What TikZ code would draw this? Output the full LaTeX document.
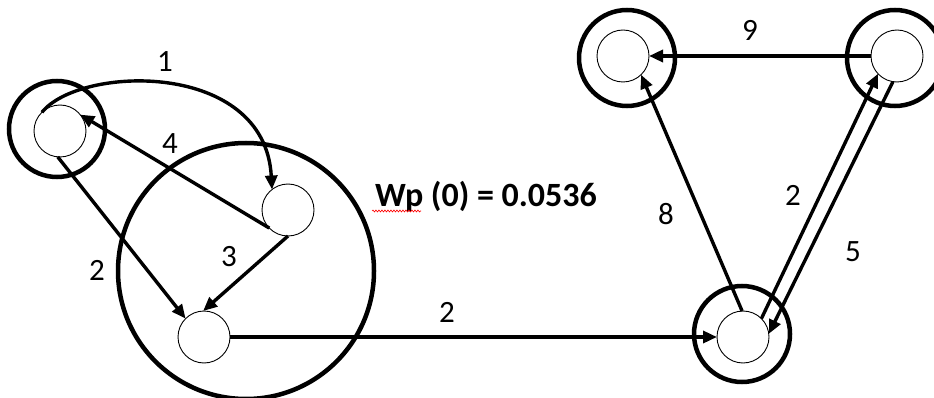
\documentclass[tikz,border=0pt]{standalone}
\usepackage{fontspec}
\setmainfont{Carlito}
\usetikzlibrary{arrows.meta,decorations.pathmorphing}
\begin{document}
\begin{tikzpicture}[x=1pt,y=-1pt,
  state/.style={circle,draw,line width=0.9pt,minimum size=52pt,inner sep=0pt,outer sep=0pt},
  ring/.style={circle,draw,line width=4.5pt,minimum size=96pt,inner sep=0pt},
  bigring/.style={circle,draw,line width=4.5pt,minimum size=256pt,inner sep=0pt},
  edge/.style={line width=3.4pt,-{Triangle[length=14pt,width=12pt]}},
  lbl/.style={font=\fontsize{31}{36}\selectfont},
]
\useasboundingbox (0,0) rectangle (934,398);
% rings
\node[ring] (RA) at (57,129) {};
\node[bigring] (RB) at (246,271) {};
\node[ring] (RD) at (627,58) {};
\node[ring] (RE) at (895,58) {};
\node[ring] (RF) at (742,334) {};
% states
\node[state] (A) at (60,131) {};
\node[state] (B) at (288,210) {};
\node[state] (C) at (204,337) {};
\node[state] (D) at (623,56) {};
\node[state] (E) at (897,56) {};
\node[state] (F) at (743,337) {};
% edges
\draw[edge] (A.134) .. controls (80,65) and (265,60) .. (B.128);
\draw[edge] (B.224) -- (A.39);
\draw[edge] (A.265) -- (C.135);
\draw[edge] (B.270) -- (C.92);
\draw[edge] (C.0) -- (F.180);
\draw[edge] (F.92) -- (D.314);
\draw[edge] (F.45) -- (E.223);
\draw[edge] (E.261) -- (F.7);
\draw[edge] (E.180) -- (D.0);
% labels
\node[lbl] (l1) at (165,62) {1};
\node[lbl] (l4) at (170,144) {4};
\node[lbl] (l2a) at (97,270) {2};
\node[lbl] (l3) at (229,257) {3};
\node[lbl] (l2b) at (447,312) {2};
\node[lbl] (l8) at (666,214) {8};
\node[lbl] (l2c) at (793,195) {2};
\node[lbl] (l5) at (853,252) {5};
\node[lbl] (l9) at (750,30) {9};
\node[font=\fontsize{34}{39}\selectfont\bfseries] (wp) at (486,197) {Wp (0) = 0.0536};
\draw[red,line width=0.6pt,decorate,decoration={snake,amplitude=1pt,segment length=3pt}] (372,211) -- (421,211);
\end{tikzpicture}
\end{document}
